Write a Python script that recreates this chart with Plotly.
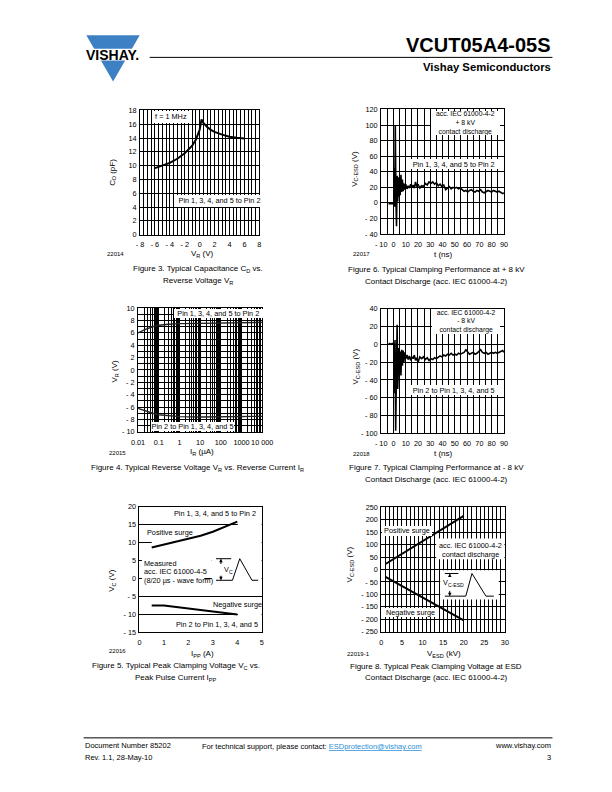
import numpy as np
import plotly.graph_objects as go

W, H = 612, 792
FONT = "Liberation Sans, Arial, Helvetica, sans-serif"

# ---------------- data ----------------
# Figure 3: capacitance vs reverse voltage
fig3_vr = [-6, -5, -4, -3, -2, -1, -0.5, 0, 0.25, 0.5, 1, 1.5, 2, 3, 4, 5, 6]
fig3_cd = [9.65, 10.0, 10.4, 11.0, 11.8, 12.9, 13.8, 15.2, 16.7, 16.2, 15.6, 15.2, 14.9, 14.5, 14.2, 14.05, 13.95]
fig3_x_ticks = [-8, -6, -4, -2, 0, 2, 4, 6, 8]
fig3_x_labels = ["- 8", "- 6", "- 4", "- 2", "0", "2", "4", "6", "8"]
fig3_y_ticks = [0, 2, 4, 6, 8, 10, 12, 14, 16, 18]
fig3_y_labels = ["0", "2", "4", "6", "8", "10", "12", "14", "16", "18"]

# Figure 4: reverse voltage vs reverse current
fig4_ir = [0.01, 0.02, 0.05, 0.1, 0.3, 1, 10, 100, 1000, 10000]
fig4_vr_pos = [6.0, 6.5, 7.0, 7.25, 7.4, 7.5, 7.55, 7.6, 7.65, 7.7]
fig4_vr_neg = [-6.2, -6.6, -7.0, -7.25, -7.45, -7.55, -7.6, -7.6, -7.6, -7.5]
fig4_x_ticks = [0.01, 0.1, 1, 10, 100, 1000, 10000]
fig4_x_labels = ["0.01", "0.1", "1", "10", "100", "1000", "10 000"]
fig4_y_ticks = [-10, -8, -6, -4, -2, 0, 2, 4, 6, 8, 10]
fig4_y_labels = ["- 10", "- 8", "- 6", "- 4", "- 2", "0", "2", "4", "6", "8", "10"]

# Figure 5: peak clamping voltage vs peak pulse current
fig5_ipp = [0.5, 1, 1.5, 2, 2.5, 3, 3.5, 4]
fig5_vc_pos = [8.6, 9.4, 10.2, 11.0, 11.9, 13.0, 14.3, 15.8]
fig5_vc_neg = [-7.5, -7.5, -7.9, -8.3, -8.8, -9.2, -9.6, -10.0]
fig5_x_ticks = [0, 1, 2, 3, 4, 5]
fig5_x_labels = ["0", "1", "2", "3", "4", "5"]
fig5_y_ticks = [-15, -10, -5, 0, 5, 10, 15, 20]
fig5_y_labels = ["- 15", "- 10", "- 5", "0", "5", "10", "15", "20"]
fig5_pulse_x = [3.13, 3.8, 4.1, 4.6, 4.85]
fig5_pulse_y = [-0.5, -0.5, 5.5, -0.5, -0.5]
fig5_bracket_x = [3.13, 3.75]
fig5_bracket_y = [5.5, 5.5]

# Figure 6: clamping at +8 kV
fig6_pairs = [(-4, -1), (-3, -1), (-2, -1), (-1, -1), (0, -1), (0.5, 0), (0.8, 45), (1.1, -5),
              (1.5, 100), (2.0, 10), (2.5, -30), (3.0, 35), (3.5, 2), (4.0, 33), (4.5, 8),
              (5.0, 30), (5.5, 10), (6.1, 36), (6.7, 14), (7.3, 30), (7.9, 15), (8.5, 25),
              (9.2, 17), (10, 24), (11, 18), (12, 22), (13, 19), (14, 24), (15, 20), (16, 23),
              (17, 19), (18, 27), (19, 21), (20, 24), (21.5, 19), (23, 22), (24.5, 21), (26, 25),
              (27.5, 23), (29, 27), (30.5, 25), (32, 27), (33.5, 24), (35, 26), (36.5, 22),
              (38, 24), (39.5, 21), (41, 23), (42.5, 17), (44, 19), (45.5, 21), (47, 18),
              (48.5, 20), (50, 19), (51.5, 20), (53, 18), (54.5, 19), (56, 17), (57.5, 15),
              (59, 16), (60.5, 14), (62, 16), (63.5, 17), (65, 15), (66.5, 14), (68, 16),
              (69.5, 15), (71, 17), (72.5, 14), (74, 13), (75.5, 15), (77, 16), (78.5, 15),
              (80, 14), (81.5, 16), (83, 15), (84.5, 14), (86, 15), (87.5, 13), (89, 12), (90, 13)]
fig6_t = [p[0] for p in fig6_pairs]
fig6_v = [p[1] for p in fig6_pairs]
fig6_x_ticks = [-10, 0, 10, 20, 30, 40, 50, 60, 70, 80, 90]
fig6_x_labels = ["- 10", "0", "10", "20", "30", "40", "50", "60", "70", "80", "90"]
fig6_y_ticks = [-40, -20, 0, 20, 40, 60, 80, 100, 120]
fig6_y_labels = ["- 40", "- 20", "0", "20", "40", "60", "80", "100", "120"]

# Figure 7: clamping at -8 kV
fig7_pairs = [(-4, 0), (-3, 1), (-2, 0), (-1, 1), (0, 0), (0.5, 1), (0.9, -55), (1.3, 5),
              (1.8, -97), (2.4, -40), (3.0, 22), (3.5, -50), (4.0, -25), (4.5, -4), (5.0, -30),
              (5.5, -8), (6.1, -35), (6.7, -6), (7.3, -24), (7.9, -7), (8.5, -20), (9.2, -9),
              (10, -16), (11, -12), (12, -17), (13, -13), (14, -18), (15, -14), (16, -16),
              (17, -12), (18, -18), (19, -15), (20, -20), (21.5, -14), (23, -16), (24.5, -14),
              (26, -17), (27.5, -15), (29, -18), (30.5, -16), (32, -17), (33.5, -15), (35, -16),
              (36.5, -14), (38, -13), (39.5, -14), (41, -12), (42.5, -13), (44, -11), (45.5, -12),
              (47, -10), (48.5, -12), (50, -11), (51.5, -12), (53, -10), (54.5, -11), (56, -10),
              (57.5, -9), (59, -6), (60.5, -8), (62, -11), (63.5, -10), (65, -9), (66.5, -11),
              (68, -10), (69.5, -8), (71, -6), (72.5, -9), (74, -10), (75.5, -9), (77, -11),
              (78.5, -10), (80, -9), (81.5, -10), (83, -9), (84.5, -10), (86, -9), (87.5, -8),
              (89, -7), (90, -9)]
fig7_t = [p[0] for p in fig7_pairs]
fig7_v = [p[1] for p in fig7_pairs]
fig7_y_ticks = [-100, -80, -60, -40, -20, 0, 20, 40]
fig7_y_labels = ["- 100", "- 80", "- 60", "- 40", "- 20", "0", "20", "40"]

# Figure 8: peak clamping voltage vs ESD voltage
fig8_vesd = [1, 5, 10, 15, 20]
fig8_pos = [22, 62, 113, 164, 215]
fig8_neg = [-30, -67, -113, -158, -204]
fig8_x_ticks = [0, 5, 10, 15, 20, 25, 30]
fig8_x_labels = ["0", "5", "10", "15", "20", "25", "30"]
fig8_y_ticks = [-250, -200, -150, -100, -50, 0, 50, 100, 150, 200, 250]
fig8_y_labels = ["- 250", "- 200", "- 150", "- 100", "- 50", "0", "50", "100", "150", "200", "250"]
fig8_pulse_x = [15.4, 20.5, 22.0, 25.4, 27.3]
fig8_pulse_y = [-107, -107, -16, -107, -107]
fig8_bracket_x = [15.4, 18.7]
fig8_bracket_y = [-16, -16]


# ---------------- helpers ----------------
def ptx(x):
    return x / W


def pty(y):
    return 1 - y / H


def make_axis(a_px, b_px, rng, grid, ticks, labels, anchor, standoff,
              is_y=False, typ="linear", showgrid=True):
    if is_y:
        domain = [pty(b_px), pty(a_px)]
    else:
        domain = [ptx(a_px), ptx(b_px)]
    minor_vals = []
    if showgrid:
        for v in grid:
            if not any(abs(v - t) <= 1e-9 * max(1.0, abs(t)) for t in ticks):
                minor_vals.append(float(v))
    ax = dict(domain=domain, range=rng, type=typ, anchor=anchor,
              tickmode="array", tickvals=list(ticks), ticktext=list(labels),
              showgrid=showgrid, gridcolor="black", gridwidth=1,
              showline=True, linecolor="black", linewidth=1, mirror=True,
              ticks="", zeroline=False, fixedrange=True, tickangle=0,
              ticklabelstandoff=standoff,
              tickfont=dict(size=7.3, family=FONT, color="black"))
    if minor_vals:
        ax["minor"] = dict(tickmode="array", tickvals=minor_vals, showgrid=True,
                           gridcolor="black", gridwidth=1, ticks="")
    return ax


def text_ann(text, x, y, size=7.3, xanchor="center", yanchor="middle", angle=0, **kw):
    d = dict(text=text, x=ptx(x), y=pty(y), xref="paper", yref="paper",
             showarrow=False, xanchor=xanchor, yanchor=yanchor, textangle=angle,
             font=dict(family=FONT, size=size, color="black"))
    d.update(kw)
    return d


def box_ann(text, x0, x1, y0, y1, size=7.3):
    return text_ann(text, (x0 + x1) / 2, (y0 + y1) / 2, size=size, bgcolor="white",
                    width=x1 - x0, height=y1 - y0, borderpad=0, borderwidth=0,
                    align="center", valign="middle")


def white_rect(ax, x0, x1, y0, y1):
    return dict(type="rect", xref="x" + ax, yref="y" + ax, x0=x0, x1=x1, y0=y0, y1=y1,
                fillcolor="white", line=dict(width=0), layer="between")


def arrow(ax, x, y_from, y_to):
    return dict(x=x, y=y_to, ax=x, ay=y_from, xref="x" + ax, yref="y" + ax,
                axref="x" + ax, ayref="y" + ax, showarrow=True, text="",
                arrowhead=2, arrowsize=0.7, arrowwidth=1, arrowcolor="black", standoff=0)


fig = go.Figure()
line_style = dict(color="black", width=2)
# Figure 3 -> x/y
fig.add_trace(go.Scatter(x=fig3_vr, y=fig3_cd, mode="lines", line=line_style, xaxis="x", yaxis="y"))
# Figure 6 -> x2/y2
fig.add_trace(go.Scatter(x=fig6_t, y=fig6_v, mode="lines", line=dict(color="black", width=1.6), xaxis="x2", yaxis="y2"))
# Figure 4 -> x3/y3
fig.add_trace(go.Scatter(x=fig4_ir, y=fig4_vr_pos, mode="lines", line=dict(color="#222", width=1.4), xaxis="x3", yaxis="y3"))
fig.add_trace(go.Scatter(x=fig4_ir, y=fig4_vr_neg, mode="lines", line=dict(color="#222", width=1.4), xaxis="x3", yaxis="y3"))
# Figure 7 -> x4/y4
fig.add_trace(go.Scatter(x=fig7_t, y=fig7_v, mode="lines", line=dict(color="black", width=1.6), xaxis="x4", yaxis="y4"))
# Figure 5 -> x5/y5
fig.add_trace(go.Scatter(x=fig5_ipp, y=fig5_vc_pos, mode="lines", line=line_style, xaxis="x5", yaxis="y5"))
fig.add_trace(go.Scatter(x=fig5_ipp, y=fig5_vc_neg, mode="lines", line=line_style, xaxis="x5", yaxis="y5"))
fig.add_trace(go.Scatter(x=fig5_pulse_x, y=fig5_pulse_y, mode="lines", line=dict(color="black", width=1), xaxis="x5", yaxis="y5"))
fig.add_trace(go.Scatter(x=fig5_bracket_x, y=fig5_bracket_y, mode="lines", line=dict(color="black", width=1), xaxis="x5", yaxis="y5"))
# Figure 8 -> x6/y6
fig.add_trace(go.Scatter(x=fig8_vesd, y=fig8_pos, mode="lines", line=line_style, xaxis="x6", yaxis="y6"))
fig.add_trace(go.Scatter(x=fig8_vesd, y=fig8_neg, mode="lines", line=line_style, xaxis="x6", yaxis="y6"))
fig.add_trace(go.Scatter(x=fig8_pulse_x, y=fig8_pulse_y, mode="lines", line=dict(color="black", width=1), xaxis="x6", yaxis="y6"))
fig.add_trace(go.Scatter(x=fig8_bracket_x, y=fig8_bracket_y, mode="lines", line=dict(color="black", width=1), xaxis="x6", yaxis="y6"))

log_grid = [k * 10.0 ** e for e in range(-2, 4) for k in range(1, 10)] + [10000.0]

layout_axes = dict(
    xaxis=make_axis(137, 260, [-8, 8], np.arange(-8, 8.01, 0.5), fig3_x_ticks, fig3_x_labels, "y", 3),
    yaxis=make_axis(107.7, 233.3, [0, 18], np.arange(0, 18.01, 2), fig3_y_ticks, fig3_y_labels, "x", 1, is_y=True),
    xaxis2=make_axis(385.5, 512, [-10, 90], np.arange(-10, 90.01, 5), fig6_x_ticks, fig6_x_labels, "y2", 3),
    yaxis2=make_axis(106.7, 232.7, [-40, 120], np.arange(-40, 120.01, 20), fig6_y_ticks, fig6_y_labels, "x2", 1, is_y=True),
    xaxis3=make_axis(135, 263, [-2, 4], log_grid, fig4_x_ticks, fig4_x_labels, "y3", 3, typ="log"),
    yaxis3=make_axis(307.7, 432.7, [-10, 10], np.arange(-10, 10.01, 1), fig4_y_ticks, fig4_y_labels, "x3", 1, is_y=True),
    xaxis4=make_axis(385.5, 512, [-10, 90], np.arange(-10, 90.01, 5), fig6_x_ticks, fig6_x_labels, "y4", 3),
    yaxis4=make_axis(308.3, 434.3, [-100, 40], np.arange(-100, 40.01, 20), fig7_y_ticks, fig7_y_labels, "x4", 1, is_y=True),
    xaxis5=make_axis(136.5, 262.5, [0, 5], fig5_x_ticks, fig5_x_ticks, fig5_x_labels, "y5", 3, showgrid=False),
    yaxis5=make_axis(508.3, 635.7, [-15, 20], np.arange(-15, 20.01, 5), fig5_y_ticks, fig5_y_labels, "x5", 1, is_y=True),
    xaxis6=make_axis(385.7, 513, [0, 30], np.arange(0, 30.01, 1), fig8_x_ticks, fig8_x_labels, "y6", 3),
    yaxis6=make_axis(509, 635, [-250, 250], np.arange(-250, 250.01, 50), fig8_y_ticks, fig8_y_labels, "x6", 1, is_y=True),
)

shapes = [
    # logo
    dict(type="path", xref="paper", yref="paper",
         path=f"M {ptx(81.7)},{pty(31.7)} L {ptx(136.7)},{pty(31.7)} L {ptx(109.3)},{pty(78.3)} Z",
         fillcolor="#3d80c4", line=dict(width=0), layer="above"),
    dict(type="rect", xref="paper", yref="paper", x0=ptx(76), x1=ptx(142), y0=pty(57.2), y1=pty(45.3),
         fillcolor="white", line=dict(width=0), layer="above"),
    # header and footer rules
    dict(type="line", xref="paper", yref="paper", x0=ptx(147), x1=ptx(562), y0=pty(54), y1=pty(54),
         line=dict(color="black", width=1)),
    dict(type="line", xref="paper", yref="paper", x0=ptx(79), x1=ptx(562), y0=pty(742.3), y1=pty(742.3),
         line=dict(color="black", width=1)),
    # figure 5 cover-ups (grid hidden behind texts/inset)
    white_rect("5", 4.02, 5, 13.5, 16.5),
    white_rect("5", 0.5, 5, 9, 11),
    white_rect("5", 0.1, 2.95, 3.5, 6.5),
    white_rect("5", 0.1, 2.65, -1.5, 3.5),
    white_rect("5", 2.95, 5, -1.5, 6.5),
    white_rect("5", 4.02, 5, -11, -9),
    # figure 8 cover-ups
    white_rect("6", 13.3, 29.9, 41, 124),
    white_rect("6", 14.3, 28.5, -120, -3),
]

annotations = [
    # header
    text_ann("<b>VISHAY.</b>", 108.5, 51.5, size=14),
    text_ann("<b>VCUT05A4-05S</b>", 563, 41, size=20, xanchor="right"),
    text_ann("<b>Vishay Semiconductors</b>", 563, 63.5, size=11.3, xanchor="right"),
    # footer
    text_ann("Document Number 85202", 78, 750.5, size=7.5, xanchor="left"),
    text_ann("Rev. 1.1, 28-May-10", 78, 762, size=7.5, xanchor="left"),
    text_ann('For technical support, please contact: <span style="color:#2a8fd4"><u>ESDprotection@vishay.com</u></span>',
             199, 751, size=7.5, xanchor="left"),
    text_ann("www.vishay.com", 563, 750.5, size=7.5, xanchor="right"),
    text_ann("3", 563, 762, size=7.5, xanchor="right"),

    # ---- Figure 3 ----
    text_ann("C<sub>D</sub> (pF)", 109, 170, size=8, angle=-90),
    text_ann("V<sub>R</sub> (V)", 201, 253, size=8),
    text_ann("22014", 112, 252.7, size=6),
    text_ann("Figure 3. Typical Capacitance C<sub>D</sub> vs.", 197, 268.5, size=8),
    text_ann("Reverse Voltage V<sub>R</sub>", 197, 280.3, size=8),
    box_ann("f = 1 MHz", 150, 188, 108.3, 120),
    box_ann("Pin 1, 3, 4, and 5 to Pin 2", 175, 262, 193.3, 205),

    # ---- Figure 6 ----
    text_ann("V<sub>C-ESD</sub> (V)", 358.3, 167, size=8, angle=-90),
    text_ann("t (ns)", 450, 253, size=8),
    text_ann("22017", 365, 253.3, size=6),
    text_ann("Figure 6. Typical Clamping Performance at + 8 kV", 443, 268.5, size=8),
    text_ann("Contact Discharge (acc. IEC 61000-4-2)", 443, 280.3, size=8),
    box_ann("acc. IEC 61000-4-2<br>+ 8 kV<br>contact discharge", 438.3, 507, 108.3, 132.3, size=6.8),
    box_ann("Pin 1, 3, 4, and 5 to Pin 2", 413.3, 506.7, 156.7, 166.7),

    # ---- Figure 4 ----
    text_ann("V<sub>R</sub> (V)", 111, 371, size=8, angle=-90),
    text_ann("I<sub>R</sub> (µA)", 201, 453, size=8),
    text_ann("22015", 114, 454.3, size=6),
    text_ann("Figure 4. Typical Reverse Voltage V<sub>R</sub> vs. Reverse Current I<sub>R</sub>", 196, 469, size=8),
    box_ann("Pin 1, 3, 4, and 5 to Pin 2", 174, 262.5, 308.3, 317),
    box_ann("Pin 2 to Pin 1, 3, 4, and 5", 150, 233, 423.3, 432),

    # ---- Figure 7 ----
    text_ann("V<sub>C-ESD</sub> (V)", 359.3, 367, size=8, angle=-90),
    text_ann("t (ns)", 450, 454.5, size=8),
    text_ann("22018", 365, 455, size=6),
    text_ann("Figure 7. Typical Clamping Performance at - 8 kV", 443, 469, size=8),
    text_ann("Contact Discharge (acc. IEC 61000-4-2)", 443, 480.7, size=8),
    box_ann("acc. IEC 61000-4-2<br>- 8 kV<br>contact discharge", 438.3, 506.7, 308.3, 333, size=6.8),
    box_ann("Pin 2 to Pin 1, 3, 4, and 5", 413.3, 506.7, 385, 395),

    # ---- Figure 5 ----
    text_ann("V<sub>C</sub> (V)", 108.3, 583.3, size=8, angle=-90),
    text_ann("I<sub>PP</sub> (A)", 201.7, 657, size=8),
    text_ann("22016", 114, 654.5, size=6),
    text_ann("Figure 5. Typical Peak Clamping Voltage V<sub>C</sub> vs.", 174, 670, size=8),
    text_ann("Peak Pulse Current I<sub>PP</sub>", 174, 681.7, size=8),
    text_ann("Pin 1, 3, 4, and 5 to Pin 2", 214.7, 515.7),
    text_ann("Positive surge", 168, 534.3),
    text_ann("Measured", 139.5, 565.7, xanchor="left"),
    text_ann("acc. IEC 61000-4-5", 139.5, 574.3, xanchor="left"),
    text_ann("(8/20 µs - wave form)", 139.5, 583.3, xanchor="left"),
    text_ann("Negative surge", 237, 607.7),
    text_ann("Pin 2 to Pin 1, 3, 4, and 5", 216.7, 627.7),
    text_ann("V<sub>C</sub>", 222, 572.3, xanchor="left"),
    arrow("5", 3.33, 3.6, 5.5),
    arrow("5", 3.33, 1.2, -0.5),

    # ---- Figure 8 ----
    text_ann("V<sub>C-ESD</sub> (V)", 353.3, 567, size=8, angle=-90),
    text_ann("V<sub>ESD</sub> (kV)", 450, 657.5, size=8),
    text_ann("22019-1", 362, 657.3, size=6),
    text_ann("Figure 8. Typical Peak Clamping Voltage at ESD", 442, 670, size=8),
    text_ann("Contact Discharge (acc. IEC 61000-4-2)", 442, 681.7, size=8),
    box_ann("Positive surge", 387.5, 437.5, 528, 537.5),
    box_ann("Negative surge", 390.5, 441.5, 611.2, 620.5),
    text_ann("acc. IEC 61000-4-2", 477.5, 547.7),
    text_ann("contact discharge", 477.5, 556.7),
    text_ann("V<sub>C-ESD</sub>", 460, 585.7),
    arrow("6", 16.6, -34, -16),
    arrow("6", 16.6, -80, -107),
]

fig.update_layout(
    width=W, height=H,
    margin=dict(l=0, r=0, t=0, b=0),
    paper_bgcolor="white", plot_bgcolor="white",
    showlegend=False,
    font=dict(family=FONT, color="black", size=7.3),
    shapes=shapes,
    annotations=annotations,
    **layout_axes,
)

fig.write_html("out.html", include_plotlyjs=True, config={"displayModeBar": False, "staticPlot": True})
